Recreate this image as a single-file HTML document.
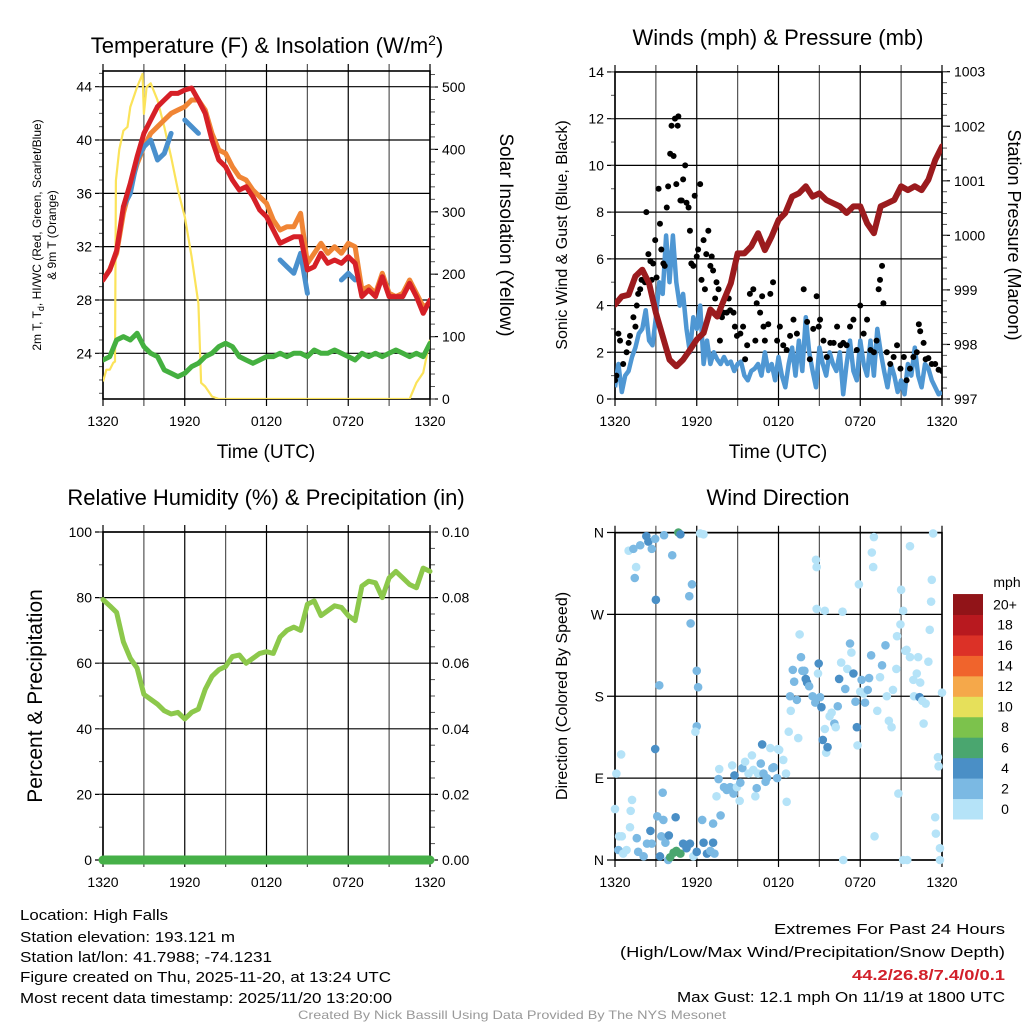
<!DOCTYPE html>
<html><head><meta charset="utf-8"><style>
html,body{margin:0;padding:0;background:#fff;}
svg{display:block;font-family:"Liberation Sans",Arial,sans-serif;}
</style></head><body>
<svg id="fig" width="1024" height="1024" viewBox="0 0 1024 1024" xmlns="http://www.w3.org/2000/svg">
<rect width="1024" height="1024" fill="#fff"/>
<g id="static" fill="#000">
<text x="267" y="53" font-size="22" text-anchor="middle">Temperature (F) &amp; Insolation (W/m<tspan dy="-8" font-size="14">2</tspan><tspan dy="8">)</tspan></text>
<text x="778" y="45" font-size="22" text-anchor="middle">Winds (mph) &amp; Pressure (mb)</text>
<text x="266" y="505" font-size="22" text-anchor="middle">Relative Humidity (%) &amp; Precipitation (in)</text>
<text x="778" y="505" font-size="22" text-anchor="middle">Wind Direction</text>
<text x="266" y="458" font-size="19" text-anchor="middle">Time (UTC)</text>
<text x="778" y="458" font-size="19" text-anchor="middle">Time (UTC)</text>
<text transform="translate(41,235) rotate(-90)" font-size="12" text-anchor="middle">2m T, T<tspan font-size="9" dy="3">d</tspan><tspan dy="-3">, HI/WC (Red, Green, Scarlet/Blue)</tspan></text>
<text transform="translate(56,235) rotate(-90)" font-size="12" text-anchor="middle">&amp; 9m T (Orange)</text>
<text transform="translate(500,235) rotate(90)" font-size="19" text-anchor="middle">Solar Insolation (Yellow)</text>
<text transform="translate(567,235) rotate(-90)" font-size="16" text-anchor="middle">Sonic Wind &amp; Gust (Blue, Black)</text>
<text transform="translate(1008,235) rotate(90)" font-size="18" text-anchor="middle">Station Pressure (Maroon)</text>
<text transform="translate(42,696) rotate(-90)" font-size="21" text-anchor="middle">Percent &amp; Precipitation</text>
<text transform="translate(567,696) rotate(-90)" font-size="16" text-anchor="middle">Direction (Colored By Speed)</text>
<g font-size="15">
<text x="20" y="920" textLength="148" lengthAdjust="spacingAndGlyphs">Location: High Falls</text>
<text x="20" y="942" textLength="215" lengthAdjust="spacingAndGlyphs">Station elevation: 193.121 m</text>
<text x="20" y="962" textLength="252" lengthAdjust="spacingAndGlyphs">Station lat/lon: 41.7988; -74.1231</text>
<text x="20" y="982" textLength="371" lengthAdjust="spacingAndGlyphs">Figure created on Thu, 2025-11-20, at 13:24 UTC</text>
<text x="20" y="1003" textLength="372" lengthAdjust="spacingAndGlyphs">Most recent data timestamp: 2025/11/20 13:20:00</text>
<text x="1005" y="934" text-anchor="end" textLength="231" lengthAdjust="spacingAndGlyphs">Extremes For Past 24 Hours</text>
<text x="1005" y="957" text-anchor="end" textLength="385" lengthAdjust="spacingAndGlyphs">(High/Low/Max Wind/Precipitation/Snow Depth)</text>
<text x="1005" y="980" text-anchor="end" font-weight="bold" fill="#d2202a" textLength="153" lengthAdjust="spacingAndGlyphs">44.2/26.8/7.4/0/0.1</text>
<text x="1005" y="1002" text-anchor="end" textLength="328" lengthAdjust="spacingAndGlyphs">Max Gust: 12.1 mph On 11/19 at 1800 UTC</text>
</g>
<text x="512" y="1019" font-size="12" fill="#999" text-anchor="middle" textLength="428" lengthAdjust="spacingAndGlyphs">Created By Nick Bassill Using Data Provided By The NYS Mesonet</text>
</g>
</svg>
<script>
// ---------- data ----------
const timeLabels = ["1320","1920","0120","0720","1320"];
const tempTicks = [24,28,32,36,40,44];
const solarTicks = [0,100,200,300,400,500];
const windTicks = [0,2,4,6,8,10,12,14];
const pressTicks = [997,998,999,1000,1001,1002,1003];
const rhTicks = [0,20,40,60,80,100];
const precipTicks = ["0.00","0.02","0.04","0.06","0.08","0.10"];
const dirTicks = ["N","E","S","W","N"];
const speedBins = ["0","2","4","6","8","10","12","14","16","18","20+"];

const halfHours = [0,0.5,1,1.5,2,2.5,3,3.5,4,4.5,5,5.5,6,6.5,7,7.5,8,8.5,9,9.5,10,10.5,11,11.5,12,12.5,13,13.5,14,14.5,15,15.5,16,16.5,17,17.5,18,18.5,19,19.5,20,20.5,21,21.5,22,22.5,23,23.5,24];
const tempRed = [29.5,30.25,31.7,35,36.75,38.75,40.5,41.5,42.5,43,43.5,43.5,43.75,43.9,43,42,40,38.5,38,37,36.25,36.5,35.75,34.75,34.25,33.25,32.25,32.5,32.75,32.75,30.25,30.5,31.5,30.75,31,30.75,31.25,30.75,28.25,28.75,28.25,29.75,28.25,28.25,28.25,29.25,28.25,27,28];
const tempOrange = [29.5,30.3,31.5,34.5,36.5,38.2,39.5,40.5,41,41.5,42,42.25,42.5,43,43,42.25,40.5,39.25,39,38,37.25,37,36.25,35.75,35.25,34,33.25,33.5,33.5,34.5,30.75,31.5,32.25,31.5,32,31.5,32.25,32,28.75,29,28.5,30,28.5,28.25,28.5,29.5,28.5,27.5,27.75];
const tempBlue = [null,null,null,35,36,38.5,39.5,40,38.5,39,40.5,null,41.5,41,40.5,null,null,null,null,null,null,null,null,null,null,null,31,30.5,30,31.5,28.5,null,null,29.5,null,29.5,30,29.5,null,25.5,null,null,null,null,null,28,null,null,null];
const dewpoint = [23.5,23.75,25,25.25,25,25.5,24.5,24,23.75,22.75,22.5,22.25,22.5,23,23.25,23.75,24,24.5,24.75,24.5,23.75,23.5,23.25,23.5,23.75,23.75,24,23.75,24,24,23.75,24.25,24,24,24.25,24,23.75,23.5,24,23.75,24,23.75,24,24.25,24,23.75,24,23.75,24.75];
const solarTimes = [0,0.25,0.5,0.75,0.88,0.95,1.2,1.5,1.8,2,2.5,2.9,3,3.2,3.5,4,4.5,5,5.5,6,6.5,7,7.2,7.5,8,8.5,22.5,23,23.5,24];
const solarValues = [28,47,47,58,60,350,400,430,436,468,500,521,457,500,506,479,436,388,335,292,228,153,26,20,4,0,0,26,42,95];

const pressure = [998.73,998.88,998.91,999.25,999.37,999.12,998.58,998.15,997.72,997.6,997.72,997.9,998.09,998.21,998.64,998.51,998.82,999.12,999.67,999.67,999.8,1000.04,999.73,999.98,1000.28,1000.41,1000.71,1000.77,1000.9,1000.71,1000.77,1000.65,1000.59,1000.53,1000.41,1000.53,1000.53,1000.22,1000.04,1000.53,1000.59,1000.65,1000.9,1000.83,1000.9,1000.83,1001.02,1001.38,1001.63];
const sonicWind = [0.5,1.5,0.3,1,1.2,1.8,2.2,2.8,3,3.8,2.5,2.3,3.5,5,4.5,7,5,7,5,4,4.5,3,2,3.5,3,4,1.5,2.5,1.5,2,1.7,1.5,1.8,1.5,1.6,1.2,1.5,1.6,1,0.8,1.2,1.3,1.5,1,2,1.2,1.5,0.8,1.8,1,0.5,1.5,2.2,1,2.5,1.2,3.5,2,1.2,0.5,2.2,1.5,1,2,1.5,1.2,2,0.2,1.5,2.5,1.2,0.8,2.5,1.5,1,2.5,1,3,2,1.2,0.5,1.5,1,0.3,0.8,0.2,1.5,1,2.2,1,0.5,1.5,1.3,0.8,0.5,0.2,0.3];
const gustTimes = [0,0.1,0.25,0.37,0.6,0.85,1,1.1,1.35,1.5,1.6,1.7,1.85,1.95,2.2,2.3,2.45,2.6,2.7,2.8,2.95,3.05,3.2,3.3,3.4,3.55,3.65,3.8,3.9,4.05,4.15,4.3,4.4,4.5,4.6,4.65,4.8,4.9,5,5.15,5.25,5.4,5.5,5.6,5.75,5.85,6,6.1,6.25,6.35,6.5,6.6,6.7,6.85,7,7.1,7.2,7.35,7.45,7.6,7.7,7.85,7.95,8.2,8.35,8.45,8.7,8.8,8.95,9.2,9.4,9.55,9.7,9.9,10.15,10.3,10.4,10.65,10.8,10.9,11,11.25,11.4,11.6,11.9,12.1,12.35,12.6,12.85,13.1,13.35,13.85,14.1,14.3,14.55,14.8,14.95,15.05,15.3,15.55,15.8,16.05,16.3,16.55,16.75,17,17.25,17.5,17.75,18,18.25,18.5,18.75,19,19.2,19.35,19.45,19.6,19.7,19.95,20.2,20.45,20.7,20.95,21.2,21.4,21.65,21.9,22.15,22.3,22.4,22.65,22.8,23,23.25,23.5,23.75,24];
const gustValues = [0.8,1,2.8,2.5,1.5,2,2.4,2.7,3.5,3.1,4,4.5,4.7,5.1,5,8,6.2,5.9,5.1,5.8,6.8,5.2,9,7.5,6.4,5.8,5.7,8.2,9.1,10.5,11.7,10.4,12,9.2,11.7,12.1,8.5,8.5,9.4,10,8.4,8.2,7.2,5.8,5.7,8.7,6.1,6.4,9.2,5.1,6.8,4.7,6.2,7.2,5.7,6.1,5.5,4.3,5,4.7,2.5,3.5,3.7,3.7,4.3,3.8,3.7,3.1,2.7,2.8,3.1,1.7,2.3,4.5,4.7,2.5,4.1,3.7,4.4,3.1,2.5,3.2,4.5,5,2.5,3.1,2.3,2.1,2.7,3.4,2.8,4.7,3.3,1.7,3,4.4,3.1,3.4,2.5,1.8,2.4,2.4,3.1,2.3,2.4,2.3,3.1,3.4,2.1,4,2.8,3.4,2.1,2,2.5,4.7,5.1,5.7,4.1,2,1.5,1.8,2.3,1.3,1.8,0.8,1.3,1.8,2,3.2,2.9,2.4,1.7,1.75,1.5,1.5,1.25,1.2];

const rh = [79.4,77.5,75.5,66.5,61.5,58.5,50.5,49,47.5,45.5,44.5,45,43,45,46,52,56,58,59,62,62.5,60,61.5,63,63.5,63,68,70,71,70,78,79,74.5,76,77.5,77,74.5,73,83.5,85,84.5,80,86,88,86,84,83,89,88];
const precip = [0,0,0,0,0,0,0,0,0,0,0,0,0,0,0,0,0,0,0,0,0,0,0,0,0,0,0,0,0,0,0,0,0,0,0,0,0,0,0,0,0,0,0,0,0,0,0,0,0];

const dirTimes = [1,1.35,1.85,2.3,2.45,2.7,2.95,3.6,4.2,4.65,4.8,6.25,6.5,1.55,1.45,3,5.65,5.45,5.55,6,6.1,3.25,6,5.9,2.95,0.45,0.1,0,1.25,1.15,3.5,3.1,4.45,3.55,6.4,7.75,7.2,1.1,0.3,0.5,0.25,0.6,0.85,1.6,1.7,2.1,2.35,2.6,2.7,3.3,3.4,3.7,3.95,3.9,4.05,4.3,4.5,4.8,5,5.25,5.5,5.75,6,6.5,6.75,7,7.2,7.3,7.45,7.6,7.65,8,8.2,8.45,8.7,8.6,8.77,8.95,9.15,9.2,9.35,9.55,9.8,10.05,10.15,10.3,10.4,10.5,10.7,10.8,10.9,11.05,11.15,11.4,11.55,11.65,11.9,11.95,12.05,12.35,12.6,12.55,12.75,12.85,12.9,13.05,13.15,13.35,13.45,13.55,13.65,13.75,13.9,14,14.1,14.25,14.5,14.7,14.75,14.8,14.8,14.9,14.95,15.05,15.15,15.25,15.4,15.5,15.6,15.4,15.75,15.9,16.1,16.2,16.35,16.45,16.6,16.7,16.75,16.9,17.05,17.25,17.35,17.5,17.65,17.75,17.8,17.9,18,18.1,18.25,18.35,18.55,18.65,18.8,18.85,18.95,19,19.05,19.25,19.45,19.6,19.85,19.95,20.1,20.3,20.4,20.65,20.7,20.8,20.95,21,21.15,21.3,21.4,21.45,21.65,21.65,21.9,21.95,22.15,22.25,22.4,22.35,22.55,22.65,22.8,23,23.1,23.2,23.25,23.35,23.5,23.55,23.7,23.75,23.85,23.85,24,21.15];
const dirDegrees = [340,342,346,356,350,342,353,357,335,360,358,359,358,322,310,286,303,290,260,208,190,192,147,141,122,116,95,56,66,54,74,48,47,44,44,49,40,36,26,26,11,7,11,24,9,4,18,32,18,4,26,19,27,0,3,8,10,7,18,13,18,4,9,19,7,10,19,7,70,89,100,80,77,80,73,104,93,80,65,85,101,108,95,115,99,70,79,95,106,127,95,86,90,123,101,102,90,122,121,110,64,95,141,180,164,209,196,176,134,248,223,208,208,199,195,191,180,173,330,322,276,205,216,179,168,132,144,118,124,274,158,162,150,146,169,199,217,273,0,188,210,238,228,205,174,146,126,303,185,198,183,173,187,200,225,338,322,355,26,164,201,214,236,180,153,146,187,210,246,73,259,297,274,230,231,0,345,223,198,180,205,223,195,179,175,150,172,218,253,284,308,359,47,29,113,103,13,0,184,0];
const dirSpeeds = [1,2,3,4.5,4.5,2.5,2,2.5,3,7,4.5,1.5,1,1,3,4,3,3,3,3,3,3,3,1,4,1,1,1,1,1,3,3,4.5,2.5,3,3,3,1,1,1,3,1,1,2,3,3,3,4,3,4.5,3,3,4.5,3,6.5,6.5,6.5,7,4.5,4,4,1,4.5,4.5,4.5,3,4.5,3,1,3,1,3,3.5,3,3,1,4,1,1,3,3.5,1,1,1,1,1,3,1,3,4,3,3,3,1,3,3,3.5,1,1,1,1,1,1,3,1,3,3,3,1,1,3,3,3,4.5,4.5,3,3,3,1,1,1,1,4.5,3,4.5,4.5,1,1,4.5,1,1,1,3,1,3,4.5,1,1,1,3,1,3,1,4,3,4.5,1,1,1,3,1,3,3,3,3,1,1,1,1,1,1,3,3.5,1,1,1,1,1,1,1,1,1,1,1,1,1,1,1,1,1,1,1,1,4,1,1,1,1,1,1,1,1,1,1,1,1,1,1,1,1,1];
const quarterHours = halfHours.flatMap((h,i)=> i<halfHours.length-1 ? [h,h+0.25] : [h]);

// ---------- helpers ----------
const NS = "http://www.w3.org/2000/svg";
const fig = document.getElementById('fig');
function mk(tag, attrs, parent){
  const e = document.createElementNS(NS, tag);
  for (const k in attrs) e.setAttribute(k, attrs[k]);
  (parent||fig).appendChild(e);
  return e;
}
function panel(x0,x1,y0,y1){
  return {x0,x1,y0,y1,xs:t=>x0+(x1-x0)*t/24};
}
const colors = ["#b5e3f8","#7bb9e3","#4a8fc6","#4aa66f","#7cc24c","#e6e05a","#f5a84a","#f0642c","#dc3127","#b8191f","#911418"];
function speedColor(s){ return colors[Math.min(10, Math.floor(s/2))]; }

function drawFrame(p, name, leftTicks, leftFn, leftLabels, rightTicks, rightFn, rightLabels, leftMinor, rightMinor){
  const g = mk('g', {});
  
  
  for (let k=0;k<=8;k++){
    const x = p.x0 + (p.x1-p.x0)*k/8;
    const l = mk('line', {x1:x,x2:x,y1:p.y0-7,y2:p.y1+7,stroke:(k%2? '#555':'#000'),'stroke-width':1.2}, g);
    
    
  }
  leftTicks.forEach((v,i)=>{
    const y = leftFn(v);
    const l = mk('line', {x1:p.x0-8,x2:p.x1,y1:y,y2:y,stroke:'#000','stroke-width':1.2}, g);
    
    
    const t = mk('text', {x:p.x0-11,y:y+5,'font-size':14,'text-anchor':'end'}, g);
    t.textContent = leftLabels[i];
    
    
  });
  (leftMinor||[]).forEach(v=>{
    const y = leftFn(v);
    mk('line', {x1:p.x0-4,x2:p.x0,y1:y,y2:y,stroke:'#555','stroke-width':1}, g);
  });
  rightTicks.forEach((v,i)=>{
    const y = rightFn(v);
    mk('line', {x1:p.x1,x2:p.x1+8,y1:y,y2:y,stroke:'#000','stroke-width':1.2}, g);
    const t = mk('text', {x:p.x1+12,y:y+5,'font-size':14}, g);
    t.textContent = rightLabels[i];
    
    
  });
  (rightMinor||[]).forEach(v=>{
    const y = rightFn(v);
    mk('line', {x1:p.x1,x2:p.x1+5,y1:y,y2:y,stroke:'#555','stroke-width':1}, g);
  });
  const b = mk('rect', {x:p.x0,y:p.y0,width:p.x1-p.x0,height:p.y1-p.y0,fill:'none',stroke:'#000','stroke-width':1.6}, g);
  
  
  timeLabels.forEach((s,i)=>{
    const t = mk('text', {x:p.xs(i*6),y:p.y1+27,'font-size':14,'text-anchor':'middle'}, g);
    t.textContent = s;
    
    
  });
}
function linePath(p, times, vals, yFn){
  let d = '', pen = false;
  times.forEach((t,i)=>{
    const v = vals[i];
    if (v===null || v===undefined){ pen=false; return; }
    d += (pen?'L':'M') + p.xs(t).toFixed(1) + ',' + yFn(v).toFixed(1);
    pen = true;
  });
  return d;
}
function range(a,b,s){ const r=[]; for(let v=a; v<=b+1e-9; v+=s) r.push(+v.toFixed(4)); return r; }

// ---------- panel 1: temperature ----------
const p1 = panel(103,430,71,399);
const yT = v => 86.7 + (44 - v)*13.33;
const yS = s => 399 - s*0.624;
drawFrame(p1,'temperature',tempTicks,yT,tempTicks.map(String),solarTicks,yS,solarTicks.map(String),range(21,45,1),range(0,520,20));
const clip1 = mk('clipPath',{id:'c1'}); mk('rect',{x:p1.x0,y:p1.y0,width:p1.x1-p1.x0,height:p1.y1-p1.y0},clip1);
const s1 = mk('g',{'clip-path':'url(#c1)'});
let e;
e = mk('path',{d:linePath(p1,solarTimes,solarValues,yS),fill:'none',stroke:'#fbe35a','stroke-width':2.2,'stroke-linejoin':'round'},s1);


e = mk('path',{d:linePath(p1,halfHours,dewpoint,yT),fill:'none',stroke:'#44b040','stroke-width':5,'stroke-linejoin':'round','stroke-linecap':'round'},s1);


e = mk('path',{d:linePath(p1,halfHours,tempOrange,yT),fill:'none',stroke:'#f08535','stroke-width':5,'stroke-linejoin':'round','stroke-linecap':'round'},s1);


e = mk('path',{d:linePath(p1,halfHours,tempBlue,yT),fill:'none',stroke:'#4a90cd','stroke-width':5,'stroke-linejoin':'round','stroke-linecap':'round'},s1);


e = mk('path',{d:linePath(p1,halfHours,tempRed,yT),fill:'none',stroke:'#d62027','stroke-width':5,'stroke-linejoin':'round','stroke-linecap':'round'},s1);



// ---------- panel 2: winds ----------
const p2 = panel(615,942,72,399);
const yW = v => 399 - v*23.36;
const yP = v => 399 - (v-997)*54.55;
drawFrame(p2,'winds',windTicks,yW,windTicks.map(String),pressTicks,yP,pressTicks.map(String),range(0,14,1),range(997,1003,0.2));
const clip2 = mk('clipPath',{id:'c2'}); mk('rect',{x:p2.x0,y:p2.y0,width:p2.x1-p2.x0,height:p2.y1-p2.y0},clip2);
const s2 = mk('g',{'clip-path':'url(#c2)'});
e = mk('path',{d:linePath(p2,quarterHours,sonicWind,yW),fill:'none',stroke:'#4f97d3','stroke-width':4.5,'stroke-linejoin':'round'},s2);


gustTimes.forEach((t,i)=>{
  const c = mk('circle',{cx:p2.xs(t),cy:yW(gustValues[i]),r:3,fill:'#000'},s2);
  
  
});
e = mk('path',{d:linePath(p2,halfHours,pressure,yP),fill:'none',stroke:'#9b1b1e','stroke-width':6,'stroke-linejoin':'round','stroke-linecap':'round'},s2);



// ---------- panel 3: humidity ----------
const p3 = panel(103,430,532,860);
const yR = v => 860 - v*3.28;
drawFrame(p3,'humidity',rhTicks,yR,rhTicks.map(String),rhTicks,yR,precipTicks,range(0,100,10),range(0,100,5));
e = mk('path',{d:linePath(p3,halfHours,rh,yR),fill:'none',stroke:'#8cc84b','stroke-width':5,'stroke-linejoin':'round','stroke-linecap':'round'});


e = mk('path',{d:linePath(p3,halfHours,precip.map(v=>v*1000),yR),fill:'none',stroke:'#46b048','stroke-width':9,'stroke-linecap':'round'});



// ---------- panel 4: wind direction ----------
const p4 = panel(615,942,532.7,860);
const yD = d => 860 - d*0.9097;
drawFrame(p4,'direction',[0,90,180,270,360],yD,dirTicks,[],yD,[],[],[]);
const clip4 = mk('clipPath',{id:'c4'}); mk('rect',{x:p4.x0-6,y:p4.y0-6,width:p4.x1-p4.x0+12,height:p4.y1-p4.y0+12},clip4);
const s4 = mk('g',{'clip-path':'url(#c4)'});
dirTimes.forEach((t,i)=>{
  const c = mk('circle',{cx:p4.xs(t),cy:yD(dirDegrees[i]),r:4.3,fill:speedColor(dirSpeeds[i])},s4);
  
  
});
const cb = mk('g',{});


const binH = 20.45;
speedBins.forEach((lab,i)=>{
  const y = 819 - (i+1)*binH;
  const r = mk('rect',{x:953,y:y,width:30,height:binH+0.5,fill:colors[i]},cb);
  
  
  const t = mk('text',{x:1005,y:y+binH/2+5,'font-size':14,'text-anchor':'middle'},cb);
  t.textContent = lab;
  
  
});
const mph = mk('text',{x:1007,y:587,'font-size':14,'text-anchor':'middle'},cb);
mph.textContent = 'mph';


</script>
</body></html>
